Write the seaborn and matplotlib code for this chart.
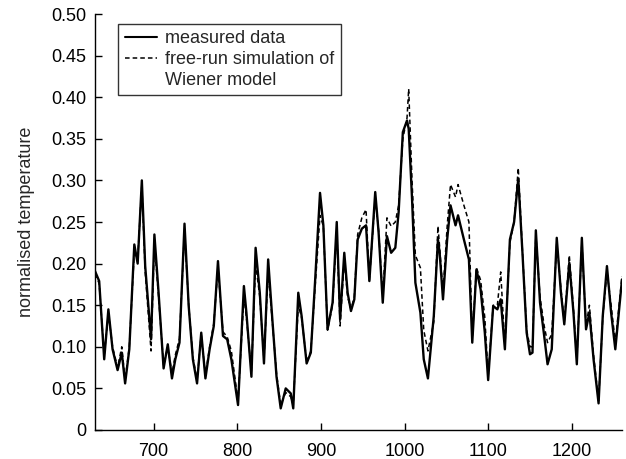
import numpy as np
import pandas as pd
import matplotlib
matplotlib.use("Agg")
import matplotlib.pyplot as plt
from matplotlib.lines import Line2D
import seaborn as sns

# time samples
t = [630, 635, 641, 646, 651, 657, 662, 666, 671, 677, 681, 686, 690, 697, 701, 706,
     712, 717, 722, 726, 731, 737, 742, 747, 752, 757, 762, 767, 772, 777, 783, 788,
     793, 801, 808, 811, 817, 822, 827, 832, 837, 842, 847, 852, 858, 864, 867, 873,
     877, 883, 888, 893, 899, 903, 908, 914, 919, 923, 928, 932, 936, 940, 944, 949,
     954, 958, 965, 969, 974, 979, 984, 989, 993, 998, 1003, 1005, 1009, 1013, 1019,
     1023, 1028, 1035, 1040, 1042, 1046, 1051, 1055, 1061, 1064, 1071, 1077, 1081,
     1086, 1091, 1096, 1100, 1106, 1111, 1115, 1120, 1126, 1131, 1136, 1141, 1146,
     1150, 1153, 1157, 1162, 1167, 1171, 1176, 1182, 1187, 1191, 1197, 1202, 1206,
     1212, 1217, 1221, 1226, 1232, 1237, 1242, 1247, 1252, 1260]

measured = [0.191, 0.179, 0.085, 0.145, 0.097, 0.072, 0.093, 0.056, 0.097, 0.223, 0.200,
            0.300, 0.197, 0.109, 0.235, 0.165, 0.074, 0.103, 0.062, 0.085, 0.105, 0.248,
            0.149, 0.085, 0.056, 0.117, 0.062, 0.097, 0.125, 0.203, 0.113, 0.109, 0.085,
            0.030, 0.173, 0.141, 0.064, 0.219, 0.165, 0.080, 0.205, 0.133, 0.064, 0.026,
            0.050, 0.044, 0.026, 0.165, 0.137, 0.080, 0.093, 0.177, 0.285, 0.246, 0.121,
            0.153, 0.250, 0.133, 0.213, 0.165, 0.143, 0.157, 0.229, 0.242, 0.246, 0.179,
            0.286, 0.238, 0.153, 0.233, 0.213, 0.219, 0.262, 0.358, 0.372, 0.362, 0.278,
            0.177, 0.141, 0.085, 0.062, 0.137, 0.229, 0.213, 0.157, 0.229, 0.270, 0.246,
            0.258, 0.229, 0.205, 0.105, 0.193, 0.169, 0.117, 0.060, 0.149, 0.145, 0.157,
            0.097, 0.229, 0.250, 0.302, 0.213, 0.117, 0.091, 0.093, 0.240, 0.153, 0.113,
            0.079, 0.097, 0.231, 0.165, 0.127, 0.201, 0.141, 0.079, 0.231, 0.121, 0.141,
            0.085, 0.032, 0.137, 0.197, 0.141, 0.097, 0.181]

simulated = [0.188, 0.176, 0.090, 0.140, 0.100, 0.075, 0.100, 0.060, 0.100, 0.215, 0.205,
             0.295, 0.190, 0.095, 0.225, 0.160, 0.078, 0.100, 0.068, 0.090, 0.110, 0.240,
             0.150, 0.088, 0.060, 0.115, 0.066, 0.100, 0.128, 0.195, 0.118, 0.112, 0.095,
             0.035, 0.160, 0.135, 0.070, 0.200, 0.160, 0.085, 0.190, 0.130, 0.068, 0.030,
             0.045, 0.040, 0.030, 0.150, 0.135, 0.082, 0.095, 0.170, 0.258, 0.245, 0.120,
             0.150, 0.240, 0.125, 0.205, 0.160, 0.145, 0.160, 0.235, 0.255, 0.265, 0.180,
             0.280, 0.240, 0.160, 0.255, 0.245, 0.250, 0.270, 0.350, 0.375, 0.410, 0.300,
             0.210, 0.195, 0.120, 0.095, 0.130, 0.245, 0.220, 0.165, 0.245, 0.295, 0.280,
             0.295, 0.270, 0.250, 0.110, 0.195, 0.180, 0.135, 0.065, 0.150, 0.150, 0.190,
             0.100, 0.225, 0.250, 0.315, 0.215, 0.120, 0.100, 0.100, 0.235, 0.160, 0.125,
             0.105, 0.115, 0.225, 0.170, 0.130, 0.210, 0.145, 0.085, 0.225, 0.125, 0.150,
             0.090, 0.035, 0.135, 0.190, 0.150, 0.105, 0.185]

xticks = [700, 800, 900, 1000, 1100, 1200]
yticks = [0, 0.05, 0.10, 0.15, 0.20, 0.25, 0.30, 0.35, 0.40, 0.45, 0.50]
ytick_labels = ["0", "0.05", "0.10", "0.15", "0.20", "0.25", "0.30", "0.35", "0.40", "0.45", "0.50"]
legend_labels = ["measured data", "free-run simulation of", "Wiener model"]

sns.set_style("ticks")
plt.rcParams['font.family'] = ['Liberation Sans', 'DejaVu Sans']

df = pd.DataFrame({"t": t, "measured": measured, "simulated": simulated})

fig = plt.figure(figsize=(6.26, 4.59), dpi=100)
ax = fig.add_axes([95 / 626, 1 - 430 / 459, 527 / 626, 416 / 459])

sns.lineplot(data=df, x="t", y="simulated", ax=ax, color="black", linewidth=1.1,
             linestyle=(0, (3, 2)), zorder=2)
sns.lineplot(data=df, x="t", y="measured", ax=ax, color="black", linewidth=1.7,
             zorder=3)

ax.set_xlim(630, 1260)
ax.set_ylim(0, 0.5)
ax.set_xticks(xticks)
ax.set_xticklabels([str(v) for v in xticks])
ax.set_yticks(yticks)
ax.set_yticklabels(ytick_labels)
ax.set_xlabel("")
ax.set_ylabel("normalised temperature", fontsize=13, labelpad=12)
ax.tick_params(direction="in", length=5, width=1, labelsize=13, colors="black")
ax.tick_params(axis="y", pad=6)
ax.tick_params(axis="x", pad=9)
for s in ["top", "right"]:
    ax.spines[s].set_visible(False)
for s in ["left", "bottom"]:
    ax.spines[s].set_linewidth(1.0)
    ax.spines[s].set_color("black")

handles = [Line2D([], [], color="black", linewidth=1.5),
           Line2D([], [], color="black", linewidth=1.1, linestyle=(0, (3, 2))),
           Line2D([], [], color="none", linewidth=0)]
leg = ax.legend(handles, legend_labels, loc="upper left",
                bbox_to_anchor=(0.044, 0.976), fontsize=13, frameon=True,
                fancybox=False, edgecolor="black", handlelength=1.8,
                borderpad=0.35, labelspacing=0.2, handletextpad=0.45,
                borderaxespad=0)
leg.get_frame().set_linewidth(1.0)

fig.savefig("out.png", dpi=100)
